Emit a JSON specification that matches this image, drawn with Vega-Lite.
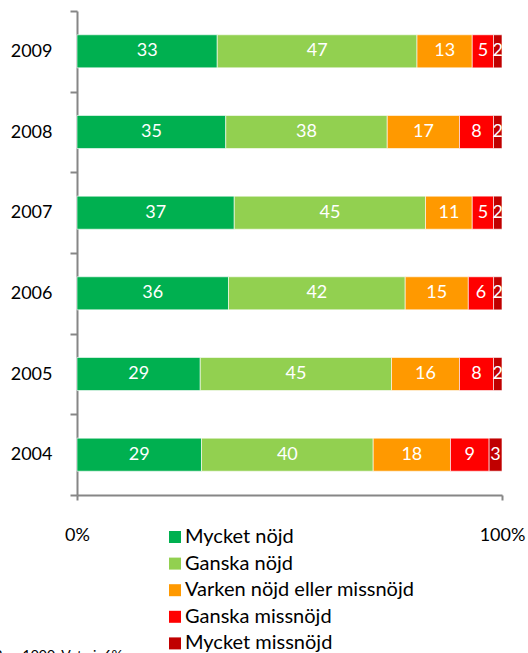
{
  "$schema": "https://vega.github.io/schema/vega-lite/v6.json",
  "width": 425,
  "height": 484,
  "autosize": {"type": "none"},
  "padding": {"left": 77, "top": 11, "right": 26, "bottom": 158},
  "background": "white",
  "config": {"view": {"stroke": null}, "font": "Lato"},
  "data": {"values": [
    {"year": "2009", "cat": "Mycket nöjd", "k": 1, "v": 33},
    {"year": "2009", "cat": "Ganska nöjd", "k": 2, "v": 47},
    {"year": "2009", "cat": "Varken nöjd eller missnöjd", "k": 3, "v": 13},
    {"year": "2009", "cat": "Ganska missnöjd", "k": 4, "v": 5},
    {"year": "2009", "cat": "Mycket missnöjd", "k": 5, "v": 2},
    {"year": "2008", "cat": "Mycket nöjd", "k": 1, "v": 35},
    {"year": "2008", "cat": "Ganska nöjd", "k": 2, "v": 38},
    {"year": "2008", "cat": "Varken nöjd eller missnöjd", "k": 3, "v": 17},
    {"year": "2008", "cat": "Ganska missnöjd", "k": 4, "v": 8},
    {"year": "2008", "cat": "Mycket missnöjd", "k": 5, "v": 2},
    {"year": "2007", "cat": "Mycket nöjd", "k": 1, "v": 37},
    {"year": "2007", "cat": "Ganska nöjd", "k": 2, "v": 45},
    {"year": "2007", "cat": "Varken nöjd eller missnöjd", "k": 3, "v": 11},
    {"year": "2007", "cat": "Ganska missnöjd", "k": 4, "v": 5},
    {"year": "2007", "cat": "Mycket missnöjd", "k": 5, "v": 2},
    {"year": "2006", "cat": "Mycket nöjd", "k": 1, "v": 36},
    {"year": "2006", "cat": "Ganska nöjd", "k": 2, "v": 42},
    {"year": "2006", "cat": "Varken nöjd eller missnöjd", "k": 3, "v": 15},
    {"year": "2006", "cat": "Ganska missnöjd", "k": 4, "v": 6},
    {"year": "2006", "cat": "Mycket missnöjd", "k": 5, "v": 2},
    {"year": "2005", "cat": "Mycket nöjd", "k": 1, "v": 29},
    {"year": "2005", "cat": "Ganska nöjd", "k": 2, "v": 45},
    {"year": "2005", "cat": "Varken nöjd eller missnöjd", "k": 3, "v": 16},
    {"year": "2005", "cat": "Ganska missnöjd", "k": 4, "v": 8},
    {"year": "2005", "cat": "Mycket missnöjd", "k": 5, "v": 2},
    {"year": "2004", "cat": "Mycket nöjd", "k": 1, "v": 29},
    {"year": "2004", "cat": "Ganska nöjd", "k": 2, "v": 40},
    {"year": "2004", "cat": "Varken nöjd eller missnöjd", "k": 3, "v": 18},
    {"year": "2004", "cat": "Ganska missnöjd", "k": 4, "v": 9},
    {"year": "2004", "cat": "Mycket missnöjd", "k": 5, "v": 3}
  ]},
  "encoding": {
    "y": {
      "field": "year", "type": "nominal", "sort": "descending",
      "scale": {"paddingInner": 0, "paddingOuter": 0},
      "axis": {"title": null, "domainColor": "#868686", "domainWidth": 2, "tickColor": "#868686", "tickWidth": 2, "tickSize": 7, "tickBand": "extent", "labelFontSize": 18, "labelColor": "black", "labelPadding": 18}
    },
    "x": {"field": "v", "type": "quantitative", "stack": "normalize",
      "axis": {"title": "Bas: 1000, Vet ej: 6%", "titleFontSize": 14, "titleFontWeight": "normal", "titleColor": "black", "titleX": -84, "titleY": 153, "titleAlign": "left", "titleAnchor": "start", "titleBaseline": "top",
        "values": [0, 1], "format": "%", "grid": false, "domainColor": "#868686", "domainWidth": 2, "tickColor": "#868686", "tickWidth": 2, "tickSize": 5, "labelFontSize": 18, "labelColor": "black", "labelPadding": 26, "labelFlush": false}}
  },
  "layer": [
    {
      "mark": {"type": "bar", "height": {"band": 0.41}, "stroke": "white", "strokeWidth": 1, "strokeOpacity": 0.6},
      "encoding": {
        "color": {
          "field": "cat", "type": "nominal",
          "scale": {
            "domain": ["Mycket nöjd", "Ganska nöjd", "Varken nöjd eller missnöjd", "Ganska missnöjd", "Mycket missnöjd"],
            "range": ["#00B050", "#92D050", "#FF9900", "#FF0000", "#C00000"]
          },
          "legend": {"orient": "none", "legendX": 88, "legendY": 516, "title": null, "symbolType": "square", "symbolSize": 144, "symbolStrokeWidth": 0, "labelFontSize": 20, "labelLimit": 400, "labelColor": "black", "rowPadding": 6.6, "padding": 0, "labelOffset": 0}
        },
        "order": {"field": "k", "type": "quantitative"}
      }
    },
    {
      "mark": {"type": "text", "color": "white", "fontSize": 18},
      "encoding": {
        "x": {"field": "v", "type": "quantitative", "stack": "normalize", "bandPosition": 0.5},
        "detail": {"field": "cat", "type": "nominal"},
        "order": {"field": "k", "type": "quantitative"},
        "text": {"field": "v", "type": "quantitative"}
      }
    }
  ]
}
